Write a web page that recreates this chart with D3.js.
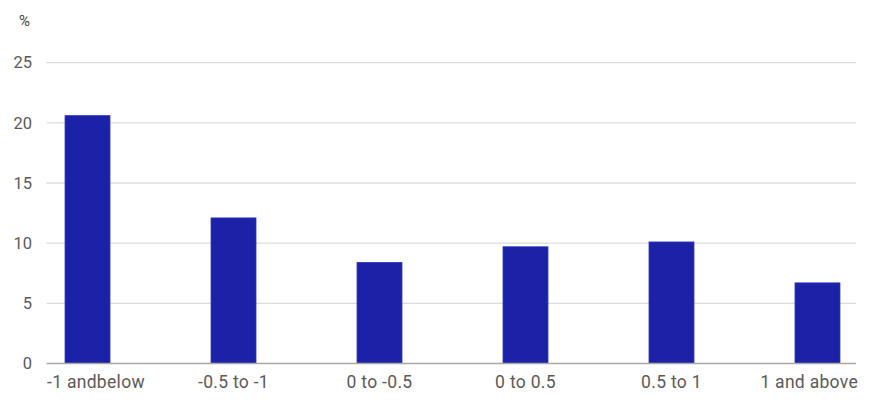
<!DOCTYPE html>
<html><head><meta charset="utf-8">
<script src="https://cdn.jsdelivr.net/npm/d3@7"></script>
<style>body{margin:0;background:#fff;}svg{display:block;font-family:Roboto,sans-serif;}</style>
</head><body><svg id="c" width="870" height="400"></svg>
<script>
const categories = ["-1 andbelow", "-0.5 to -1", "0 to -0.5", "0 to 0.5", "0.5 to 1", "1 and above"];
const values = [20.6, 12.1, 8.4, 9.7, 10.1, 6.7];
const yTicks = [0, 5, 10, 15, 20, 25];
const unitLabel = "%";

(function () {
const svg = d3.select("#c");
const mLeft = 46.5, mRight = 856, mTop = 62.7, mBottom = 363.5;
const x = d3.scaleBand().domain(categories).range([47, 858]).paddingInner(0.692).paddingOuter(0.1235);
const y = d3.scaleLinear().domain([0, 25]).range([mBottom, mTop]);

// gridlines
svg.append("g").selectAll("line").data(yTicks.filter(d => d > 0)).join("line")
  .attr("x1", mLeft).attr("x2", mRight).attr("y1", d => y(d)).attr("y2", d => y(d))
  .attr("stroke", "#dcdcdc").attr("stroke-width", 1.3);

// y labels
svg.append("g").selectAll("text").data(yTicks).join("text")
  .attr("x", 32).attr("y", d => y(d)).attr("dy", "0.35em").attr("text-anchor", "end")
  .attr("font-size", 16.5).attr("fill", "#5a5a5a").text(d => d);

svg.append("text").attr("x", 19).attr("y", 25.5).attr("font-size", 15).attr("fill", "#444").text(unitLabel);

// bars
svg.append("g").selectAll("rect").data(values).join("rect")
  .attr("x", (d, i) => x(categories[i])).attr("width", x.bandwidth())
  .attr("y", d => y(d)).attr("height", d => y(0) - y(d))
  .attr("fill", "#1b22a8").attr("stroke", "#2b35c4").attr("stroke-width", 0.8);

// baseline
svg.append("line").attr("x1", mLeft).attr("x2", mRight).attr("y1", y(0)).attr("y2", y(0))
  .attr("stroke", "#a8a8a8").attr("stroke-width", 1.3);

// x labels (clamped within chart edges)
const xl = svg.append("g").selectAll("text").data(categories).join("text")
  .attr("y", 388).attr("text-anchor", "middle").attr("font-size", 17.5).attr("fill", "#5a5a5a")
  .attr("letter-spacing", 0.3)
  .attr("x", d => x(d) + x.bandwidth() / 2).text(d => d);
xl.each(function () {
  const bb = this.getBBox();
  let cx = +this.getAttribute("x");
  if (bb.x < 47) cx += 47 - bb.x;
  if (bb.x + bb.width > 858) cx -= bb.x + bb.width - 858;
  this.setAttribute("x", cx);
});
})();
</script></body></html>
